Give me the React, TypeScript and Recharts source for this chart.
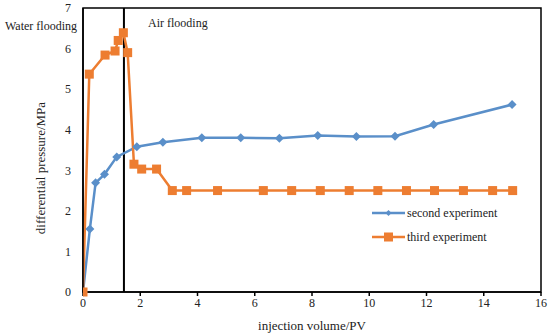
import React from "react";
import {
  LineChart,
  Line,
  XAxis,
  YAxis,
  ReferenceLine,
  ReferenceArea,
} from "recharts";

const secondX = [0, 0.24, 0.44, 0.75, 1.18, 1.88, 2.79, 4.15, 5.51, 6.86, 8.2, 9.55, 10.9, 12.25, 14.99];
const secondY = [0, 1.55, 2.69, 2.9, 3.33, 3.58, 3.69, 3.8, 3.8, 3.79, 3.86, 3.83, 3.84, 4.13, 4.62];

const thirdX = [0, 0.22, 0.77, 1.12, 1.23, 1.41, 1.56, 1.78, 2.05, 2.57, 3.12, 3.62, 4.7, 6.3, 7.29, 8.29, 9.3, 10.3, 11.3, 12.28, 13.29, 14.31, 15.01];
const thirdY = [0, 5.37, 5.84, 5.94, 6.2, 6.39, 5.9, 3.15, 3.03, 3.03, 2.5, 2.5, 2.5, 2.5, 2.5, 2.5, 2.5, 2.5, 2.5, 2.5, 2.5, 2.5, 2.5];

const xTicks = [0, 2, 4, 6, 8, 10, 12, 14, 16];
const yTicks = [0, 1, 2, 3, 4, 5, 6, 7];
const switchX = 1.43;

const seriesNames = ["second experiment", "third experiment"];
const blue = "#5A8FC9";
const orange = "#ED7D31";
const FONT = "'Liberation Serif', 'Times New Roman', serif";

const secondData = secondX.map((x, i) => ({ x, y: secondY[i] }));
const thirdData = thirdX.map((x, i) => ({ x, y: thirdY[i] }));

const Diamond = (props: any) => {
  const { cx, cy } = props;
  if (cx == null || cy == null) return null;
  const r = 4.5;
  return (
    <path
      d={`M${cx},${cy - r}L${cx + r},${cy}L${cx},${cy + r}L${cx - r},${cy}Z`}
      fill={blue}
    />
  );
};

const Square = (props: any) => {
  const { cx, cy } = props;
  if (cx == null || cy == null) return null;
  const s = 9;
  return <rect x={cx - s / 2} y={cy - s / 2} width={s} height={s} fill={orange} />;
};

const LegendBox = () => (
  <svg
    width={170}
    height={50}
    style={{ position: "absolute", left: 372, top: 204, overflow: "visible" }}
  >
    <line x1={0} y1={9} x2={33} y2={9} stroke={blue} strokeWidth={2.5} />
    <path d="M16.5,6L19.5,9L16.5,12L13.5,9Z" fill={blue} />
    <text x={35} y={13} fontFamily={FONT} fontSize={12} fill="#222">
      {seriesNames[0]}
    </text>
    <line x1={0} y1={33} x2={33} y2={33} stroke={orange} strokeWidth={2.5} />
    <rect x={12} y={28.5} width={9} height={9} fill={orange} />
    <text x={35} y={37} fontFamily={FONT} fontSize={12} fill="#222">
      {seriesNames[1]}
    </text>
  </svg>
);

export default function App() {
  return (
    <div style={{ position: "absolute", left: 0, top: 0, width: 550, height: 336, background: "#fff" }}>
      <LineChart
        width={550}
        height={336}
        margin={{ top: 8, right: 9, bottom: 0, left: 0 }}
      >
        <XAxis
          type="number"
          dataKey="x"
          domain={[0, 16]}
          ticks={xTicks}
          allowDataOverflow
          height={44}
          stroke="#000"
          strokeWidth={1.5}
          tickSize={4}
          tick={{ fill: "#222", fontFamily: FONT, fontSize: 12 }}
          label={{
            value: "injection volume/PV",
            position: "insideBottom",
            offset: 6,
            fill: "#222",
            fontFamily: FONT,
            fontSize: 13,
          }}
        />
        <YAxis
          type="number"
          dataKey="y"
          domain={[0, 7]}
          ticks={yTicks}
          width={83}
          stroke="#000"
          strokeWidth={1.5}
          tickLine={false}
          tickMargin={6}
          tick={{ fill: "#222", fontFamily: FONT, fontSize: 12 }}
          label={{
            value: "differential pressure/MPa",
            angle: -90,
            position: "insideLeft",
            offset: 40,
            dy: 18,
            fill: "#222",
            fontFamily: FONT,
            fontSize: 13,
            style: { textAnchor: "middle" },
          }}
        />
        <ReferenceArea
          x1={0}
          x2={16}
          y1={0}
          y2={7}
          fill="none"
          fillOpacity={0}
          stroke="#000"
          strokeWidth={1.5}
          ifOverflow="visible"
        />
        <ReferenceLine x={switchX} stroke="#000" strokeWidth={2} />
        <Line
          data={secondData}
          dataKey="y"
          stroke={blue}
          strokeWidth={2.5}
          dot={<Diamond />}
          activeDot={false}
          isAnimationActive={false}
          name={seriesNames[0]}
        />
        <Line
          data={thirdData}
          dataKey="y"
          stroke={orange}
          strokeWidth={2.5}
          dot={<Square />}
          activeDot={false}
          isAnimationActive={false}
          name={seriesNames[1]}
        />
      </LineChart>
      <LegendBox />
      <div
        style={{
          position: "absolute",
          left: 5,
          top: 19,
          fontFamily: FONT,
          fontSize: 12,
          color: "#222",
          whiteSpace: "nowrap",
        }}
      >
        Water flooding
      </div>
      <div
        style={{
          position: "absolute",
          left: 148,
          top: 16,
          fontFamily: FONT,
          fontSize: 12,
          color: "#222",
          whiteSpace: "nowrap",
        }}
      >
        Air flooding
      </div>
    </div>
  );
}
